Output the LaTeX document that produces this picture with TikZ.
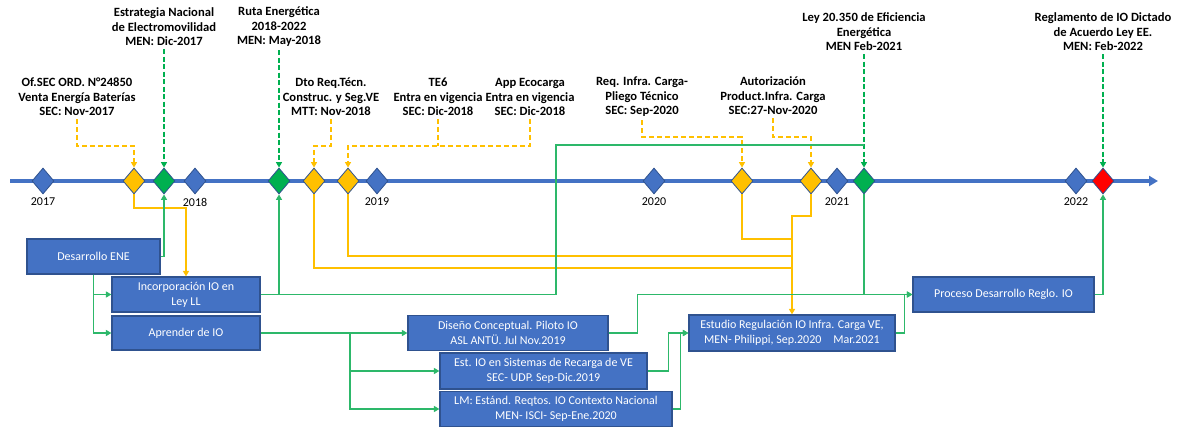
\documentclass[tikz,border=0pt]{standalone}
\usepackage{fontspec}
\setmainfont{Carlito}
\usetikzlibrary{shapes.geometric,arrows.meta}
\definecolor{tlblue}{HTML}{4472C4}
\definecolor{bdblue}{HTML}{2F528F}
\definecolor{ygold}{HTML}{FFC000}
\definecolor{ggreen}{HTML}{00B050}
\definecolor{glight}{HTML}{2DB86A}
\definecolor{rred}{HTML}{FF0000}
\begin{document}
\begin{tikzpicture}[x=1pt,y=-1pt,
  dia/.style={diamond, draw=bdblue, line width=0.8pt, minimum width=22pt, minimum height=26pt, inner sep=0pt},
  box/.style={rectangle, draw=bdblue, line width=1.2pt, fill=tlblue, text=white, align=center, font=\fontsize{12}{15}\selectfont, inner sep=2pt},
  evlabel/.style={align=center, font=\bfseries\fontsize{12.6}{14.5}\selectfont, inner sep=3pt},
  yearlabel/.style={font=\fontsize{12}{14}\selectfont, inner sep=0pt},
  tip/.style={-{Triangle[width=6pt,length=5.5pt]}},
  ydash/.style={draw=ygold, line width=1.3pt, dash pattern=on 5pt off 3pt, tip},
  gdash/.style={draw=ggreen, line width=1.3pt, dash pattern=on 5pt off 2.5pt, tip},
  gline/.style={draw=glight, line width=1.3pt},
  garrow/.style={gline, tip},
  yline/.style={draw=ygold, line width=1.5pt},
  yarrow/.style={yline, tip},
  timeline/.style={draw=tlblue, line width=3.2pt, -{Triangle[width=10pt,length=9pt]}}
]
\fill[white] (0,0) rectangle (1178,427);
\useasboundingbox (0,0) rectangle (1178,427);

% timeline
\coordinate (tstart) at (10,181);
\coordinate (tend) at (1158,181);
\draw[timeline] (tstart) -- (tend);

% diamonds
\node[dia, fill=tlblue] (d17) at (43,181) {};
\node[dia, fill=ygold]  (y1)  at (134,181) {};
\node[dia, fill=ggreen] (g1)  at (164,181) {};
\node[dia, fill=tlblue] (d18) at (195,181) {};
\node[dia, fill=ggreen] (g2)  at (279,181) {};
\node[dia, fill=ygold]  (y2)  at (314,181) {};
\node[dia, fill=ygold]  (y3)  at (348,181) {};
\node[dia, fill=tlblue] (d19) at (377,181) {};
\node[dia, fill=tlblue] (d20) at (654,181) {};
\node[dia, fill=ygold]  (y4)  at (742,181) {};
\node[dia, fill=ygold]  (y5)  at (811,181) {};
\node[dia, fill=tlblue] (d21) at (837,181) {};
\node[dia, fill=ggreen] (g3)  at (864,181) {};
\node[dia, fill=tlblue] (d22) at (1076,181) {};
\node[dia, fill=rred]   (r1)  at (1103,181) {};

% year labels
\node[yearlabel] (t17) at (43,202) {2017};
\node[yearlabel] (t18) at (195,202) {2018};
\node[yearlabel] (t19) at (377,202) {2019};
\node[yearlabel] (t20) at (654,202) {2020};
\node[yearlabel] (t21) at (837,202) {2021};
\node[yearlabel] (t22) at (1076,202) {2022};

% event labels
\node[evlabel] (l1) at (77,97) {Of.SEC ORD. N°24850\\Venta Energía Baterías\\SEC: Nov-2017};
\node[evlabel] (l2) at (164,27) {Estrategia Nacional\\de Electromovilidad\\MEN: Dic-2017};
\node[evlabel] (l3) at (279,27) {Ruta Energética\\2018-2022\\MEN: May-2018};
\node[evlabel] (l4) at (331,97) {Dto Req.Técn.\\Construc. y Seg.VE\\MTT: Nov-2018};
\node[evlabel] (l5) at (438,97) {TE6\\Entra en vigencia\\SEC: Dic-2018};
\node[evlabel] (l6) at (530,97) {App Ecocarga\\Entra en vigencia\\SEC: Dic-2018};
\node[evlabel] (l7) at (642,97) {Req. Infra. Carga-\\Pliego Técnico\\SEC: Sep-2020};
\node[evlabel] (l8) at (773,96) {Autorización\\Product.Infra. Carga\\SEC:27-Nov-2020};
\node[evlabel] (l9) at (864,32) {Ley 20.350 de Eficiencia\\Energética\\MEN Feb-2021};
\node[evlabel] (l10) at (1103,32) {Reglamento de IO Dictado\\de Acuerdo Ley EE.\\MEN: Feb-2022};

% boxes
\node[box, minimum width=133pt, minimum height=35pt] (ene) at (93.5,256.5) {Desarrollo ENE};
\node[box, minimum width=148pt, minimum height=35pt] (inc) at (186,294.5) {Incorporación IO en\\Ley LL};
\node[box, minimum width=148pt, minimum height=34pt] (apr) at (186,333) {Aprender de IO};
\node[box, minimum width=200pt, minimum height=35pt] (dis) at (508,333) {Diseño Conceptual. Piloto IO\\ASL ANTÜ. Jul Nov.2019};
\node[box, minimum width=207pt, minimum height=36pt] (est) at (543.5,371) {Est. IO en Sistemas de Recarga de VE\\SEC- UDP. Sep-Dic.2019};
\node[box, minimum width=232pt, minimum height=35pt] (lm) at (556,409) {LM: Estánd. Reqtos. IO Contexto Nacional\\MEN- ISCI- Sep-Ene.2020};
\node[box, minimum width=206pt, minimum height=36pt] (reg) at (792,333) {Estudio Regulación IO Infra. Carga VE,\\MEN- Philippi, Sep.2020\quad Mar.2021};
\node[box, minimum width=181pt, minimum height=35pt] (pro) at (1003.5,294.5) {Proceso Desarrollo Reglo. IO};

% helper coordinates
\coordinate (h146) at (0,146);
\coordinate (h137) at (0,137);
\coordinate (h208) at (0,208);
\coordinate (k1) at (556,145);
\coordinate (b1) at (350,333);
\coordinate (tr) at (792,0);
\coordinate (h268) at (0,268);
\coordinate (h256) at (0,256);
\coordinate (h239) at (0,239);
\coordinate (h216) at (0,216);

% dashed event connectors
\draw[ydash] (l1.south) -- (l1.south |- h146) -| (y1.north);
\draw[ydash] (l4.south) -- (l4.south |- h146) -| (y2.north);
\draw[yline, dash pattern=on 5pt off 3pt] (l5.south) -- (l5.south |- h146);
\draw[ydash] (l6.south) -- (l6.south |- h146) -| (y3.north);
\draw[ydash] (l7.south) -- (l7.south |- h137) -| (y4.north);
\draw[ydash] (l8.south) -- (l8.south |- h137) -| (y5.north);
\draw[gdash] (l2.south) -- (g1.north);
\draw[gdash] (l3.south) -- (g2.north);
\draw[gdash] (l9.south) -- (g3.north);
\draw[gdash] (l10.south) -- (r1.north);

% yellow solid connectors
\draw[yarrow] (y1.south) -- (y1.south |- h208) -| (inc.north);
\draw[yline] (y2.south) |- (tr |- h268);
\draw[yline] (y3.south) |- (tr |- h256);
\draw[yline] (y4.south) |- (tr |- h239);
\draw[yarrow] (y5.south) -- (y5.south |- h216) -| (reg.north);

% green solid connectors
\draw[garrow] (ene.east) -| (g1.south);
\draw[garrow] (ene.south) |- (inc.west);
\draw[garrow] (ene.south) |- (apr.west);
\draw[garrow] (inc.east) -| (g2.south);
\draw[gline] (inc.east) -| (k1) -- (g3.north |- k1);
\draw[gline] (g3.south) -- (g3.south |- pro.west);
\draw[garrow] (dis.east) -- ++(29,0) |- (pro.west);
\draw[garrow] (reg.east) -- ++(9,0) |- (pro.west);
\draw[garrow] (pro.east) -| (r1.south);
\draw[garrow] (apr.east) -- (dis.west);
\draw[garrow] (b1) |- (est.west);
\draw[garrow] (b1) |- (lm.west);
\draw[garrow] (est.east) -- ++(21,0) |- (reg.west);
\draw[garrow] (lm.east) -- ++(8,0) |- (reg.west);
\end{tikzpicture}
\end{document}
